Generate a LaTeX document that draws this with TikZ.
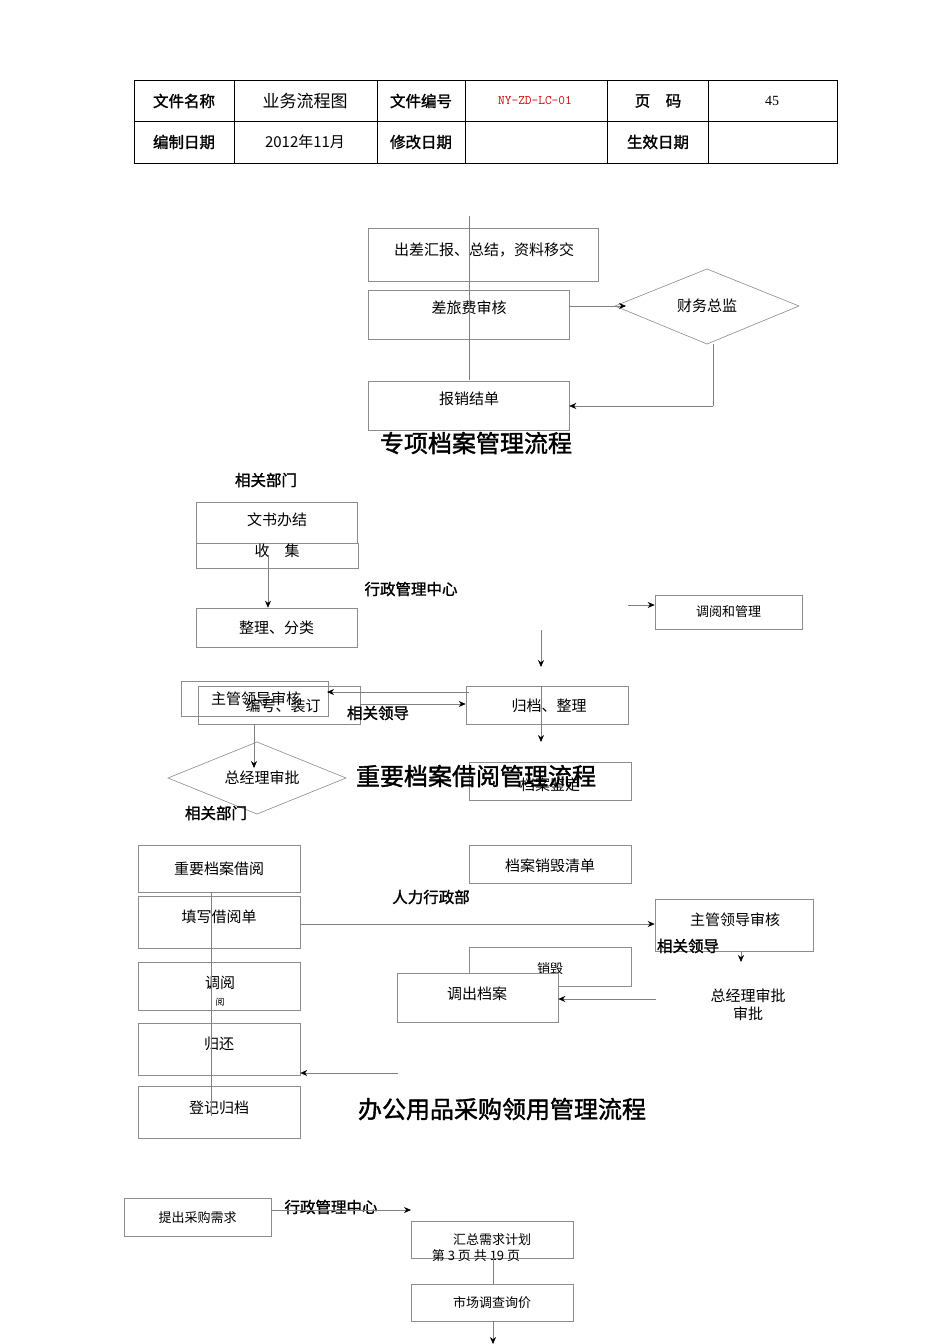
\documentclass[tikz,border=0pt]{standalone}
\usepackage{fontspec}
\setmainfont{Liberation Serif}
\newfontfamily\cjk{Noto Sans CJK SC}
\newfontfamily\cjkb{Noto Sans CJK SC}[FakeBold=1.5]
\usetikzlibrary{arrows.meta}
\begin{document}
\begin{tikzpicture}[x=1pt,y=-1pt,
  bx/.style={draw=black!45,line width=0.6pt},
  ln/.style={draw=black!50,line width=0.6pt},
  ar/.style={draw=black!50,line width=0.6pt,-{Stealth[length=7pt,width=6pt,black]}},
  tx/.style={font=\cjk\fontsize{15}{16}\selectfont,inner sep=0},
  sx/.style={font=\cjk\fontsize{13}{14}\selectfont,inner sep=0},
  hb/.style={font=\cjkb\fontsize{15.5}{16}\selectfont,inner sep=0},
  tt/.style={font=\cjkb\fontsize{24}{25}\selectfont,inner sep=0}]
\useasboundingbox[fill=white] (0,0) rectangle (950,1344);
% header
\draw[line width=1pt] (134,80) rectangle (837,163);
\draw[line width=0.6pt] (134,121) -- (837,121);
\foreach \x in {234,377,465,607,708} \draw[line width=0.6pt] (\x,80) -- (\x,163);
\node[hb] (h1) at (184,101) {文件名称};
\node[tx,font=\cjk\fontsize{17}{18}\selectfont] (h2) at (305,101) {业务流程图};
\node[hb] (h3) at (421,101) {文件编号};
\node[inner sep=0,text=red!80!black,font=\ttfamily\fontsize{13}{14}\selectfont] (h4) at (535,101) {NY-ZD-LC-01};
\node[hb] (h5) at (658,101) {页\quad 码};
\node[inner sep=0,font=\fontsize{14}{15}\selectfont] (h6) at (772,101) {45};
\node[hb] (h7) at (184,142) {编制日期};
\node[tx] (h8) at (305,142) {2012年11月};
\node[hb] (h9) at (421,142) {修改日期};
\node[hb] (h10) at (658,142) {生效日期};
% section 1
\coordinate (t1) at (469,216);
\node[bx,minimum width=230,minimum height=53,tx] (a1) at (483,254.5) {};
\node[tx] (a1t) at (484,250) {出差汇报、总结，资料移交};
\node[bx,minimum width=201,minimum height=49,tx] (a2) at (468.5,314.5) {};
\node[tx] (a2t) at (469,308) {差旅费审核};
\node[bx,minimum width=201,minimum height=49,tx] (a3) at (468.5,405.5) {};
\node[tx] (a3t) at (469,399) {报销结单};
\draw[ln] (t1) -- (469,380);
\draw[bx] (615,306) -- (707,269) -- (799,306) -- (707,344) -- cycle;
\node[tx] (d1) at (707,306) {财务总监};
\draw[ar] (a2.east|-0,306) -- (626,306);
\draw[ln] (713,344) -- (713,406);
\draw[ar] (713,406) -- (a3.east|-0,406);
\node[tt] (T1) at (476,443) {专项档案管理流程};
% section 2
\node[hb] (l1) at (266,480) {相关部门};
\node[bx,minimum width=161,minimum height=41] (b1) at (276.5,522.5) {};
\node[tx] (b1t) at (277,520) {文书办结};
\draw[bx] (196,543) rectangle (358,568);
\node[tx] (b2) at (277,551) {收\quad 集};
\node[bx,minimum width=161,minimum height=39,tx] (b3) at (276.5,627.5) {整理、分类};
\draw[ar] (268,555) -- (b3.north-|268,0);
\node[hb] (l2) at (411,589) {行政管理中心};
\node[bx,minimum width=147,minimum height=34,sx] (b4) at (728.5,612) {调阅和管理};
\coordinate (c1) at (628,605);
\draw[ar] (c1) -- (b4.west|-0,605);
\coordinate (c2) at (541,630);
\draw[ar] (c2) -- (541,667);
\node[bx,minimum width=162,minimum height=38,tx] (b5) at (547,705) {};
\node[tx] (b5t) at (549,706) {归档、整理};
\draw[bx] (181,681) rectangle (328,716);
\node[tx] (b6) at (256,699) {主管领导审核};
\node[bx,minimum width=162,minimum height=38] (b7) at (279,705) {};
\node[tx] (b7t) at (283,706) {编号、装订};
\draw[ar] (469,692) -- (327,692);
\draw[ar] (b7.east|-0,704) -- (b5.west|-0,704);
\node[hb] (l3) at (378,713) {相关领导};
\draw[ar] (541,686) -- (541,742);
\node[bx,minimum width=162,minimum height=38] (b8) at (550,781) {};
\node[tx] (b8t) at (550,785) {档案鉴定};
\draw[bx] (168,778) -- (257,742) -- (346,778) -- (257,814) -- cycle;
\node[tx] (b9) at (262,778) {总经理审批};
\draw[ar] (254,724) -- (254,768);
\node[tt] (T2) at (476,776) {重要档案借阅管理流程};
\node[hb] (l4) at (216,813) {相关部门};
% section 3
\node[bx,minimum width=162,minimum height=47,tx] (e1) at (219,868.5) {重要档案借阅};
\node[bx,minimum width=162,minimum height=52] (e2) at (219,922) {};
\node[tx] (e2t) at (219,917) {填写借阅单};
\node[bx,minimum width=162,minimum height=48] (e3) at (219,986) {};
\node[tx] (e3t) at (220,983) {调阅};
\node[tx,font=\cjk\fontsize{9}{9}\selectfont] (e3b) at (220,1002) {阅};
\node[bx,minimum width=162,minimum height=52] (e4) at (219,1049) {};
\node[tx] (e4t) at (219,1044) {归还};
\node[bx,minimum width=162,minimum height=52] (e5) at (219,1112) {};
\node[tx] (e5t) at (219,1108) {登记归档};
\draw[ln] (211,892) -- (211,1116);
\node[hb] (l5) at (431,897) {人力行政部};
\node[bx,minimum width=162,minimum height=38,tx] (f1) at (550,864) {};
\node[tx] (f1t) at (550,866) {档案销毁清单};
\node[bx,minimum width=158,minimum height=52] (f2) at (734,925) {};
\node[tx] (f2t) at (735,920) {主管领导审核};
\draw[ar] (e2.east|-0,924) -- (f2.west|-0,924);
\node[hb] (l6) at (688,946) {相关领导};
\draw[ar] (741,951) -- (741,962);
\node[bx,minimum width=162,minimum height=39] (f3) at (550,966.5) {};
\node[sx] (f3t) at (550,969) {销毁};
\node[bx,fill=white,minimum width=161,minimum height=49] (f4) at (477.5,997.5) {};
\node[tx] (f4t) at (477,994) {调出档案};
\node[tx] (f5) at (748,996) {总经理审批};
\node[tx] (f6) at (748,1014) {审批};
\coordinate (c3) at (656,999);
\draw[ar] (c3) -- (f4.east|-0,999);
\coordinate (c4) at (398,1073);
\draw[ar] (c4) -- (e4.east|-0,1073);
\node[tt] (T3) at (502,1109) {办公用品采购领用管理流程};
% section 4
\node[bx,minimum width=147,minimum height=38] (g1) at (197.5,1217) {};
\node[sx] (g1t) at (197.5,1218) {提出采购需求};
\node[hb] (l7) at (331,1207) {行政管理中心};
\node[bx,minimum width=162,minimum height=37] (g2) at (492,1239.5) {};
\node[sx] (g2t) at (492,1240) {汇总需求计划};
\draw[ar] (g1.east|-0,1210) -- (411,1210);
\node[sx] (pg) at (476,1256) {第 3 页 共 19 页};
\node[bx,minimum width=162,minimum height=37,sx] (g3) at (492,1302.5) {市场调查询价};
\draw[ln] (g2.south-|493,0) -- (g3.north-|493,0);
\coordinate (c5) at (493,1344);
\draw[ar] (g3.south-|493,0) -- (c5);
\end{tikzpicture}
\end{document}
